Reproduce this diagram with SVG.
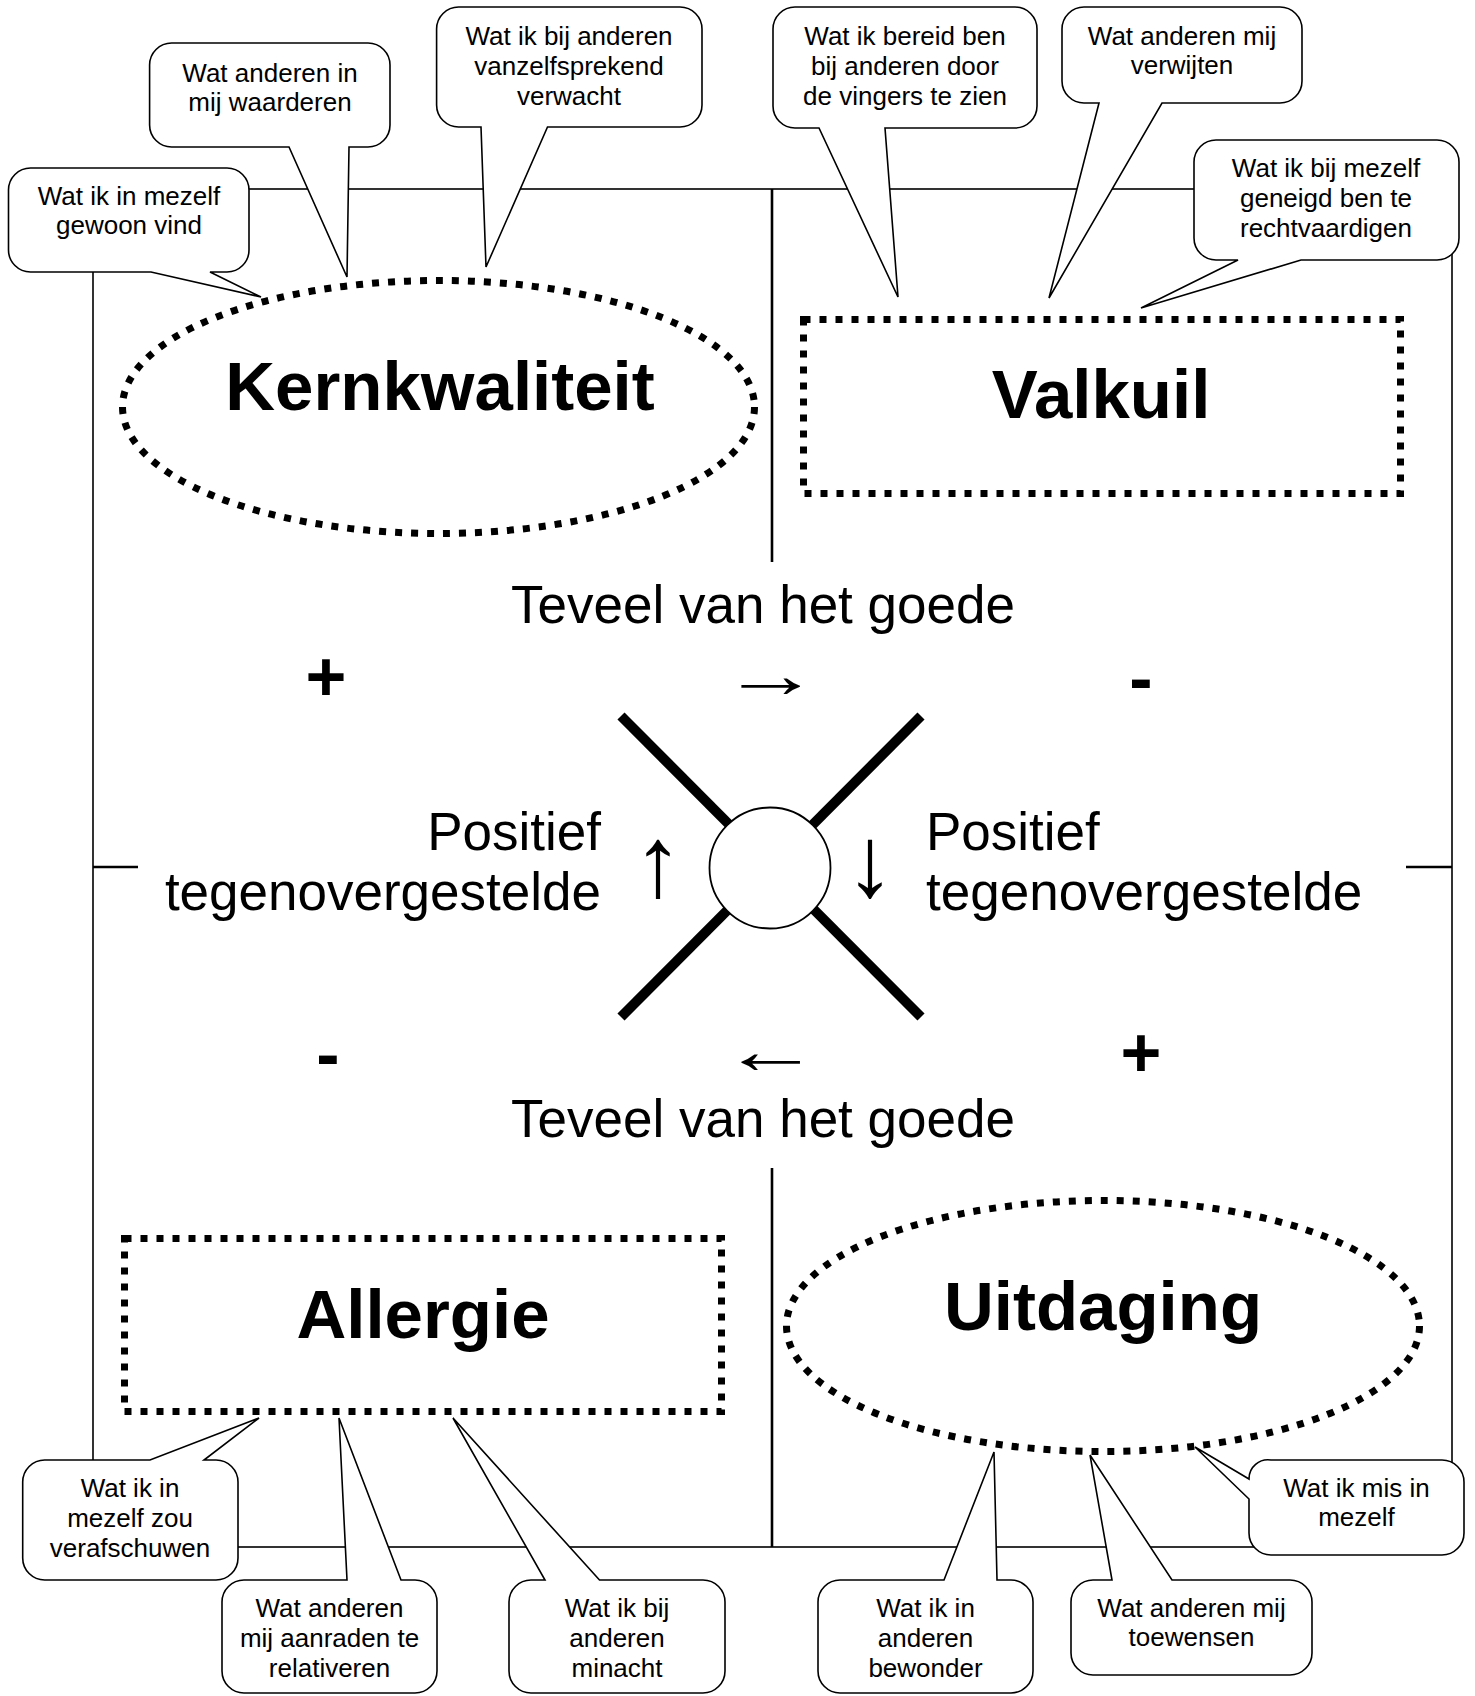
<svg xmlns="http://www.w3.org/2000/svg" width="1475" height="1696" viewBox="0 0 1475 1696">
<style>
.bub{fill:#fff;stroke:#000;stroke-width:1.6;stroke-linejoin:miter}
.bt{font-family:"Liberation Sans",Arial,sans-serif;font-size:26px;fill:#000;text-anchor:middle}
.title{font-family:"Liberation Sans",Arial,sans-serif;font-size:69px;font-weight:bold;fill:#000;text-anchor:middle}
.mid{font-family:"Liberation Sans",Arial,sans-serif;font-size:53px;fill:#000}
.sign{font-family:"Liberation Sans",Arial,sans-serif;font-size:70px;font-weight:bold;fill:#000;text-anchor:middle}
.arr{font-family:"Liberation Sans",Arial,sans-serif;font-size:100px;fill:#000;text-anchor:middle}
.arrh{font-family:"Liberation Sans",Arial,sans-serif;font-size:66px;fill:#000;text-anchor:middle}
.dot{fill:#fff;stroke:#000;stroke-width:7;stroke-dasharray:7 9}
.thin{fill:none;stroke:#000;stroke-width:1.6}
.thick{fill:none;stroke:#000;stroke-width:2.6}
.x{stroke:#000;stroke-width:10;fill:none}
</style>
<rect width="1475" height="1696" fill="#fff"/>
<g id="connectors">
  <rect class="thin" x="93" y="189" width="1359" height="1358"/>
  <line class="thick" x1="772" y1="189" x2="772" y2="562"/>
  <line class="thick" x1="772" y1="1168" x2="772" y2="1547"/>
  <line class="thick" x1="93" y1="867" x2="138" y2="867"/>
  <line class="thick" x1="1406" y1="867" x2="1452" y2="867"/>
  <line class="x" x1="621" y1="716" x2="921" y2="1017"/>
  <line class="x" x1="921" y1="716" x2="621" y2="1017"/>
</g>
<g id="center">
  <circle cx="770" cy="868" r="60.5" fill="#fff" stroke="#000" stroke-width="1.8"/>
</g>
<g id="kernkwaliteit">
  <ellipse class="dot" cx="438.5" cy="407" rx="316" ry="126.5"/>
  <text class="title" x="440" y="410">Kernkwaliteit</text>
</g>
<g id="valkuil">
  <rect class="dot" x="803.5" y="319.5" width="597" height="174"/>
  <text class="title" x="1101" y="418">Valkuil</text>
</g>
<g id="allergie">
  <rect class="dot" x="124.5" y="1238.5" width="597" height="173"/>
  <text class="title" x="423" y="1338">Allergie</text>
</g>
<g id="uitdaging">
  <ellipse class="dot" cx="1103" cy="1326" rx="316.5" ry="125.5"/>
  <text class="title" x="1103" y="1330">Uitdaging</text>
</g>
<g id="middle-labels">
  <text class="mid" x="763" y="623" text-anchor="middle">Teveel van het goede</text>
  <text class="mid" x="763" y="1137" text-anchor="middle">Teveel van het goede</text>
  <text class="mid" x="601" y="850" text-anchor="end">Positief</text>
  <text class="mid" x="601" y="910" text-anchor="end">tegenovergestelde</text>
  <text class="mid" x="926" y="850">Positief</text>
  <text class="mid" x="926" y="910">tegenovergestelde</text>
  <text class="sign" x="326" y="701">+</text>
  <text class="sign" x="1141" y="702">-</text>
  <text class="sign" x="328" y="1078">-</text>
  <text class="sign" x="1141" y="1077">+</text>
  <text class="arrh" transform="translate(771,697) scale(1.5,1)">→</text>
  <text class="arrh" transform="translate(771,1073) scale(1.5,1)">←</text>
  <text class="arr" x="658" y="896">↑</text>
  <text class="arr" x="870" y="896">↓</text>
</g>
<g id="bubble-a">
  <path class="bub" d="M30.5,168 H227 A22,22 0 0 1 249,190 V250 A22,22 0 0 1 227,272 H210 L261,297 L151,272 H30.5 A22,22 0 0 1 8.5,250 V190 A22,22 0 0 1 30.5,168 Z"/>
  <text class="bt" x="129" y="205">Wat ik in mezelf</text>
  <text class="bt" x="129" y="234">gewoon vind</text>
</g>
<g id="bubble-b">
  <path class="bub" d="M171.6,43 H368 A22,22 0 0 1 390,65 V125 A22,22 0 0 1 368,147 H349 L347,277 L289,147 H171.6 A22,22 0 0 1 149.6,125 V65 A22,22 0 0 1 171.6,43 Z"/>
  <text class="bt" x="270" y="82">Wat anderen in</text>
  <text class="bt" x="270" y="111">mij waarderen</text>
</g>
<g id="bubble-c">
  <path class="bub" d="M458.6,7 H680 A22,22 0 0 1 702,29 V105 A22,22 0 0 1 680,127 H547.5 L486,267 L481,127 H458.6 A22,22 0 0 1 436.6,105 V29 A22,22 0 0 1 458.6,7 Z"/>
  <text class="bt" x="569" y="45">Wat ik bij anderen</text>
  <text class="bt" x="569" y="75">vanzelfsprekend</text>
  <text class="bt" x="569" y="105">verwacht</text>
</g>
<g id="bubble-d">
  <path class="bub" d="M795,7 H1015 A22,22 0 0 1 1037,29 V106 A22,22 0 0 1 1015,128 H885 L898,297 L819,128 H795 A22,22 0 0 1 773,106 V29 A22,22 0 0 1 795,7 Z"/>
  <text class="bt" x="905" y="45">Wat ik bereid ben</text>
  <text class="bt" x="905" y="75">bij anderen door</text>
  <text class="bt" x="905" y="105">de vingers te zien</text>
</g>
<g id="bubble-e">
  <path class="bub" d="M1084,7 H1280 A22,22 0 0 1 1302,29 V81 A22,22 0 0 1 1280,103 H1162 L1049,298 L1099,103 H1084 A22,22 0 0 1 1062,81 V29 A22,22 0 0 1 1084,7 Z"/>
  <text class="bt" x="1182" y="45">Wat anderen mij</text>
  <text class="bt" x="1182" y="74">verwijten</text>
</g>
<g id="bubble-f">
  <path class="bub" d="M1216,140 H1437 A22,22 0 0 1 1459,162 V238 A22,22 0 0 1 1437,260 H1301 L1141,308 L1238,260 H1216 A22,22 0 0 1 1194,238 V162 A22,22 0 0 1 1216,140 Z"/>
  <text class="bt" x="1326" y="177">Wat ik bij mezelf</text>
  <text class="bt" x="1326" y="207">geneigd ben te</text>
  <text class="bt" x="1326" y="237">rechtvaardigen</text>
</g>
<g id="bubble-g">
  <path class="bub" d="M44.7,1460 H150 L259,1418 L204,1460 H216 A22,22 0 0 1 238,1482 V1558 A22,22 0 0 1 216,1580 H44.7 A22,22 0 0 1 22.7,1558 V1482 A22,22 0 0 1 44.7,1460 Z"/>
  <text class="bt" x="130" y="1497">Wat ik in</text>
  <text class="bt" x="130" y="1527">mezelf zou</text>
  <text class="bt" x="130" y="1557">verafschuwen</text>
</g>
<g id="bubble-h">
  <path class="bub" d="M244,1580 H347 L339,1418 L401,1580 H415 A22,22 0 0 1 437,1602 V1671 A22,22 0 0 1 415,1693 H244 A22,22 0 0 1 222,1671 V1602 A22,22 0 0 1 244,1580 Z"/>
  <text class="bt" x="329.5" y="1617">Wat anderen</text>
  <text class="bt" x="329.5" y="1647">mij aanraden te</text>
  <text class="bt" x="329.5" y="1677">relativeren</text>
</g>
<g id="bubble-i">
  <path class="bub" d="M531,1580 H545 L453,1418 L599.5,1580 H703 A22,22 0 0 1 725,1602 V1671 A22,22 0 0 1 703,1693 H531 A22,22 0 0 1 509,1671 V1602 A22,22 0 0 1 531,1580 Z"/>
  <text class="bt" x="617" y="1617">Wat ik bij</text>
  <text class="bt" x="617" y="1647">anderen</text>
  <text class="bt" x="617" y="1677">minacht</text>
</g>
<g id="bubble-j">
  <path class="bub" d="M840,1580 H944 L994,1452 L997,1580 H1011 A22,22 0 0 1 1033,1602 V1671 A22,22 0 0 1 1011,1693 H840 A22,22 0 0 1 818,1671 V1602 A22,22 0 0 1 840,1580 Z"/>
  <text class="bt" x="925.5" y="1617">Wat ik in</text>
  <text class="bt" x="925.5" y="1647">anderen</text>
  <text class="bt" x="925.5" y="1677">bewonder</text>
</g>
<g id="bubble-k">
  <path class="bub" d="M1093,1580 H1112 L1090,1455 L1172,1580 H1290 A22,22 0 0 1 1312,1602 V1653 A22,22 0 0 1 1290,1675 H1093 A22,22 0 0 1 1071,1653 V1602 A22,22 0 0 1 1093,1580 Z"/>
  <text class="bt" x="1191.5" y="1617">Wat anderen mij</text>
  <text class="bt" x="1191.5" y="1646">toewensen</text>
</g>
<g id="bubble-l">
  <path class="bub" d="M1271,1460 H1442 A22,22 0 0 1 1464,1482 V1533 A22,22 0 0 1 1442,1555 H1271 A22,22 0 0 1 1249,1533 V1499 L1195,1447 L1249,1479 A19,19 0 0 1 1271,1460 Z"/>
  <text class="bt" x="1356.5" y="1497">Wat ik mis in</text>
  <text class="bt" x="1356.5" y="1526">mezelf</text>
</g>
</svg>
